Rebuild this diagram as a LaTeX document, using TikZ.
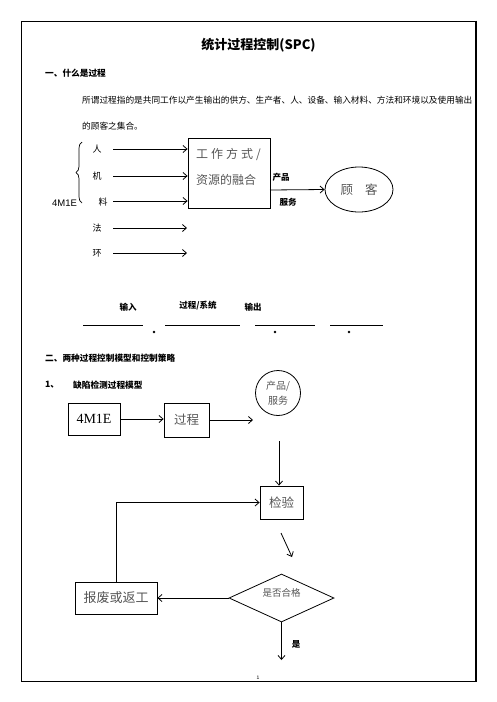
\documentclass[tikz,border=0pt]{standalone}
\usepackage{fontspec}
\setmainfont{Liberation Serif}
\newfontfamily\cjk{Noto Sans CJK SC}
\newfontfamily\lsans{Liberation Sans}
\usetikzlibrary{arrows.meta,decorations.pathreplacing,shapes.geometric}
\definecolor{graytxt}{HTML}{555555}
\begin{document}
\begin{tikzpicture}[x=1pt,y=-1pt,
  arr/.style={-{Straight Barb[length=4pt,width=7pt]},line width=0.8pt},
  box/.style={draw,line width=0.8pt,inner sep=0pt},
  body/.style={inner sep=0pt,font=\cjk\fontsize{8.67}{9}\selectfont},
  head/.style={inner sep=0pt,font=\cjk\bfseries\fontsize{8.67}{9}\selectfont},
  small/.style={inner sep=0pt,font=\cjk\fontsize{9}{9}\selectfont},
  smallb/.style={inner sep=0pt,font=\cjk\bfseries\fontsize{8.5}{9}\selectfont},
  gtxt/.style={text=graytxt,font=\cjk\fontsize{12.5}{13}\selectfont}]
\useasboundingbox (0,0) rectangle (496,702);
% page frame
\draw[line width=1pt] (21.5,21) -- (476,21);
\draw[line width=1pt] (21.5,21) -- (21.5,681) -- (476,681);
\draw[line width=2pt] (476,20.5) -- (476,682);
\node[inner sep=0pt,font=\lsans\fontsize{5}{5}\selectfont] (pgno) at (258,677.5) {1};

% title and text
\node[inner sep=0pt,font=\cjk\bfseries\fontsize{13}{13}\selectfont] (title) at (258.5,45) {统计过程控制(SPC)};
\node[head,anchor=west] (s1) at (45,73) {一、什么是过程};
\node[body,anchor=west] (p1) at (82,100) {所谓过程指的是共同工作以产生输出的供方、生产者、人、设备、输入材料、方法和环境以及使用输出};
\node[body,anchor=west] (p2) at (82,126) {的顾客之集合。};

% diagram 1
\node[small] (ren) at (97,149) {人};
\node[small] (ji) at (97,176) {机};
\node[small] (liao) at (103,202) {料};
\node[small] (fa) at (97,228) {法};
\node[small] (huan) at (97,253) {环};
\draw[decorate,decoration={brace,amplitude=6pt},line width=0.7pt] (82,203) -- (82,142);
\node[inner sep=0pt,font=\lsans\fontsize{9.5}{10}\selectfont] (m4lbl) at (64.5,203) {4M1E};

\node[box,minimum width=82,minimum height=70] (work) at (229,173) {};
\node[inner sep=0pt,anchor=west,text=graytxt,font=\cjk\fontsize{12}{12}\selectfont] (w1) at (196,154) {工\hspace{3pt}作\hspace{3pt}方\hspace{3pt}式\hspace{3pt}/};
\node[inner sep=0pt,anchor=west,text=graytxt,font=\cjk\fontsize{12}{12}\selectfont] (w2) at (196,180) {资源的融合};

\coordinate (a1) at (113,149);
\coordinate (a2) at (113,176);
\coordinate (a3) at (113,201);
\coordinate (a4) at (113,228);
\coordinate (a5) at (113,253);
\coordinate (e4) at (187,228);
\coordinate (e5) at (187,253);
\draw[arr] (a1) -- (a1 -| work.west);
\draw[arr] (a2) -- (a2 -| work.west);
\draw[arr] (a3) -- (a3 -| work.west);
\draw[arr] (a4) -- (e4);
\draw[arr] (a5) -- (e5);

\node[smallb] (cp) at (281,177) {产品};
\node[smallb] (fw) at (288,202) {服务};
\node[draw,ellipse,line width=0.8pt,minimum width=68,minimum height=45,inner sep=0pt,gtxt] (kehu) at (359,189.5) {顾\hspace{12pt}客};
\coordinate (wo) at (270,190);
\draw[arr] (wo) -- (kehu.west);

% input/process/output blanks
\node[smallb] (shuru) at (128,307) {输入};
\node[smallb] (gcxt) at (198,306) {过程/系统};
\node[smallb] (shuchu) at (253,307) {输出};
\draw[line width=0.8pt] (83,325) -- (143,325);
\draw[line width=0.8pt] (165,325) -- (240,325);
\draw[line width=0.8pt] (255,325) -- (315,325);
\draw[line width=0.8pt] (330,325) -- (383,325);
\fill (154,332) circle (1.3);
\fill (275,332) circle (1.3);
\fill (349,332) circle (1.3);

% section 2
\node[head,anchor=west] (s2) at (45,358) {二、两种过程控制模型和控制策略};
\node[head,anchor=west] (n1) at (45,385) {1、};
\node[head,anchor=west] (s21) at (73,385) {缺陷检测过程模型};

\node[draw,circle,line width=0.8pt,minimum size=45,inner sep=0pt,align=center,text=graytxt,font=\cjk\fontsize{10}{15}\selectfont] (prod) at (278,393) {产品/\\服务};
\node[box,minimum width=52,minimum height=32,font=\fontsize{14}{14}\selectfont] (m4) at (94,419) {4M1E};
\node[box,minimum width=45,minimum height=34,gtxt] (gc) at (186.5,420) {过程};
\coordinate (gco) at (253,420);
\draw[arr] (m4.east) -- (m4.east -| gc.west);
\draw[arr] (gc.east |- gco) -- (gco);

\node[box,minimum width=43,minimum height=33,gtxt] (jy) at (281.5,502.5) {检验};
\coordinate (vt) at (279,441);
\draw[arr] (vt) -- (vt |- jy.north);
\coordinate (d1) at (281,533);
\coordinate (d2) at (292,557);
\draw[arr] (d1) -- (d2);

\node[draw,diamond,line width=0.8pt,minimum width=105,minimum height=48,inner sep=0pt] (hg) at (281.5,598) {};
\node[inner sep=0pt,text=graytxt,font=\cjk\fontsize{9.5}{10}\selectfont] (hgt) at (281.5,593) {是否合格};
\node[box,minimum width=82,minimum height=32,gtxt,font=\cjk\fontsize{13}{13}\selectfont] (bf) at (116,598) {报废或返工};
\draw[arr] (hg.west) -- (bf.east);
\draw[arr] (bf.north) |- (jy.west);
\coordinate (yes) at (281.5,660);
\draw[arr] (hg.south) -- (yes);
\node[smallb] (shi) at (296,644) {是};
\end{tikzpicture}
\end{document}
